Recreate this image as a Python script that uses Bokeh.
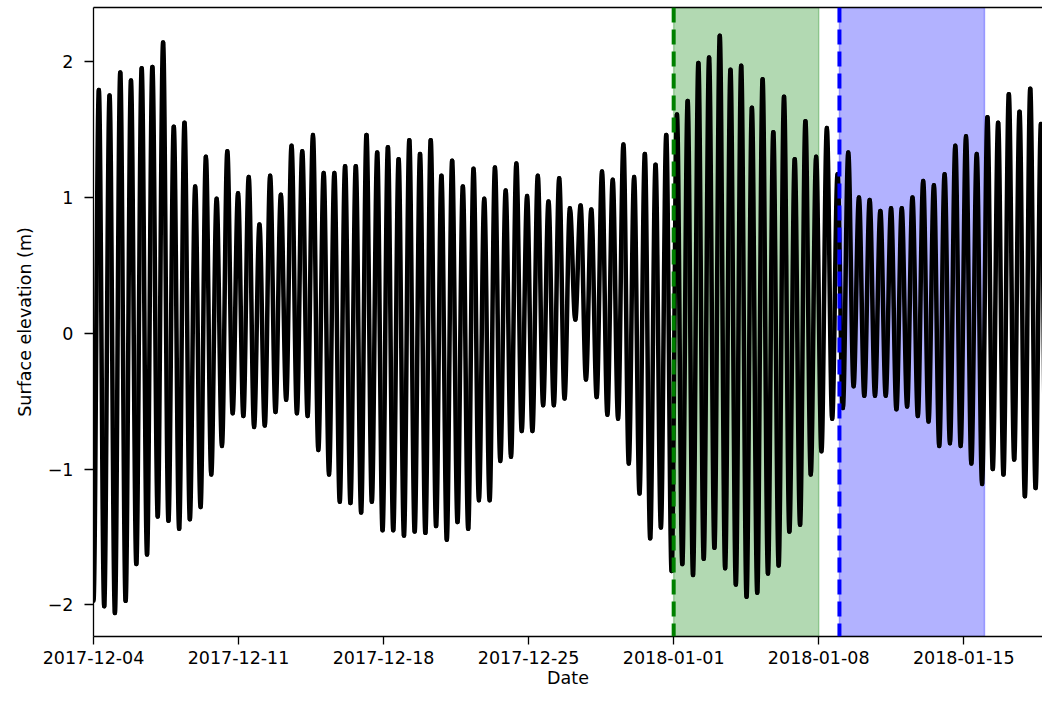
import numpy as np
import pandas as pd
from bokeh.plotting import figure
from bokeh.models import (Range1d, FixedTicker, DatetimeTickFormatter, BoxAnnotation,
                          Span, LinearAxis, CustomJSTickFormatter)
from bokeh.embed import file_html
from bokeh.resources import INLINE

# ---- data ----
start_date = "2017-12-04 00:00"
step_hours = 12.40  # time between successive low waters (semidiurnal tide)

# successive low-water levels (m)
low_water = [-1.97, -2.01, -2.06, -1.97, -1.70, -1.63, -1.35, -1.38, -1.44, -1.37,
             -1.28, -1.04, -0.83, -0.59, -0.61, -0.69, -0.68, -0.58, -0.49, -0.59,
             -0.61, -0.86, -1.04, -1.24, -1.25, -1.32, -1.24, -1.45, -1.45, -1.49,
             -1.46, -1.47, -1.42, -1.52, -1.39, -1.44, -1.23, -1.23, -0.94, -0.91,
             -0.72, -0.72, -0.53, -0.53, -0.48, 0.10, -0.34, -0.47, -0.60, -0.63,
             -0.96, -1.18, -1.51, -1.43, -1.75, -1.70, -1.78, -1.66, -1.58, -1.73,
             -1.85, -1.94, -1.91, -1.77, -1.71, -1.46, -1.41, -1.04, -0.87, -0.63,
             -0.55, -0.39, -0.46, -0.46, -0.46, -0.56, -0.54, -0.61, -0.65, -0.83,
             -0.81, -0.83, -0.96, -1.11, -1.00, -1.04, -0.93, -1.20, -1.14, -1.39,
             -1.37]
# successive high-water levels (m)
high_water = [1.79, 1.75, 1.92, 1.86, 1.95, 1.96, 2.14, 1.52, 1.55, 1.08,
              1.30, 0.99, 1.34, 1.03, 1.15, 0.80, 1.16, 1.02, 1.38, 1.34,
              1.46, 1.18, 1.18, 1.23, 1.23, 1.46, 1.33, 1.37, 1.28, 1.42,
              1.32, 1.42, 1.16, 1.27, 1.08, 1.21, 0.99, 1.22, 1.05, 1.25,
              1.01, 1.16, 0.97, 1.14, 0.92, 0.94, 0.91, 1.19, 1.13, 1.39,
              1.15, 1.32, 1.24, 1.46, 1.61, 1.71, 1.99, 2.03, 2.19, 1.94,
              1.97, 1.66, 1.87, 1.48, 1.74, 1.28, 1.56, 1.30, 1.51, 1.17,
              1.33, 1.00, 0.98, 0.90, 0.92, 0.92, 1.00, 1.12, 1.09, 1.17,
              1.38, 1.45, 1.32, 1.59, 1.55, 1.76, 1.63, 1.80, 1.54, 1.55,
              1.50]

tick_dates = ["2017-12-04", "2017-12-11", "2017-12-18", "2017-12-25",
              "2018-01-01", "2018-01-08", "2018-01-15"]
y_ticks = [-2, -1, 0, 1, 2]
green_period = ("2018-01-01", "2018-01-08")
blue_period = ("2018-01-09", "2018-01-16")

# ---- build the extrema sequence ----
def ms(s):
    return pd.Timestamp(s).value / 1e6

t0 = ms(start_date)
step_ms = step_hours * 3600e3
ext_t, ext_y = [], []
for i, (lo, hi) in enumerate(zip(low_water, high_water)):
    ext_t.append(t0 + i * step_ms)
    ext_y.append(lo)
    ext_t.append(t0 + i * step_ms + step_ms / 2)
    ext_y.append(hi)
ext_t = np.array(ext_t)
ext_y = np.array(ext_y)

k = 1 - 2 / np.pi
x0 = ext_t[:-1]; x1 = ext_t[1:]
y0 = ext_y[:-1]; y1 = ext_y[1:]
dt = x1 - x0
cx0 = x0 + k * dt; cx1 = x1 - k * dt

day_ms = 86400e3
x_end = t0 + 45.80 * day_ms

p = figure(width=1042, height=692, x_axis_type="datetime",
           output_backend="svg", toolbar_location=None,
           x_range=Range1d(t0, x_end), y_range=Range1d(-2.233, 2.398),
           min_border_left=93, min_border_right=0, min_border_top=7,
           min_border_bottom=56, outline_line_color=None,
           background_fill_color="white", border_fill_color="white")

p.xgrid.visible = False
p.ygrid.visible = False

# shaded periods (under the curve)
for (a, b), col in [(green_period, "green"), (blue_period, "blue")]:
    p.add_layout(BoxAnnotation(left=ms(a), right=ms(b), fill_color=col, fill_alpha=0.3,
                               line_color=col, line_alpha=0.3, line_width=1.5,
                               level="underlay"))

p.bezier(x0=x0, y0=y0, x1=x1, y1=y1, cx0=cx0, cy0=y0, cx1=cx1, cy1=y1,
         line_color="black", line_width=4.5, line_cap="round")

p.add_layout(Span(location=ms(green_period[0]), dimension="height", line_color="green",
                  line_width=4, line_dash="15 7"))
p.add_layout(Span(location=ms(blue_period[0]), dimension="height", line_color="blue",
                  line_width=4, line_dash="15 7"))

font = "DejaVu Sans"
for ax in (p.xaxis[0], p.yaxis[0]):
    ax.axis_line_width = 1.3
    ax.axis_line_color = "black"
    ax.major_tick_line_width = 1.3
    ax.major_tick_line_color = "black"
    ax.major_tick_out = 9
    ax.major_tick_in = 0
    ax.minor_tick_line_color = None
    ax.major_label_text_font = font
    ax.major_label_text_font_size = "17.5px"
    ax.major_label_text_color = "black"
    ax.axis_label_text_font = font
    ax.axis_label_text_font_size = "17.5px"
    ax.axis_label_text_font_style = "normal"
    ax.axis_label_text_color = "black"

p.xaxis.ticker = FixedTicker(ticks=[ms(d) for d in tick_dates])
fmt = "%Y-%m-%d"
p.xaxis.formatter = DatetimeTickFormatter(days=fmt, months=fmt, years=fmt, hours=fmt,
                                          hourmin=fmt, minutes=fmt, minsec=fmt,
                                          seconds=fmt, milliseconds=fmt,
                                          microseconds=fmt)
p.xaxis.major_tick_out = 8
p.xaxis.major_label_standoff = 6
p.xaxis.axis_label = "Date"
p.xaxis.axis_label_standoff = 1

p.yaxis.ticker = FixedTicker(ticks=y_ticks)
p.yaxis.formatter = CustomJSTickFormatter(
    code="return tick < 0 ? '\u2212' + Math.abs(tick) : tick.toString();")
p.yaxis.major_label_standoff = 11
p.yaxis.axis_label = "Surface elevation (m)"
p.yaxis.axis_label_standoff = 10

top = LinearAxis(ticker=FixedTicker(ticks=[]), major_tick_out=0, major_tick_in=0,
                 minor_tick_out=0, minor_tick_in=0, major_label_standoff=0,
                 axis_line_color="black", axis_line_width=1.3)
p.add_layout(top, "above")

open("out.html", "w").write(file_html(p, INLINE))
